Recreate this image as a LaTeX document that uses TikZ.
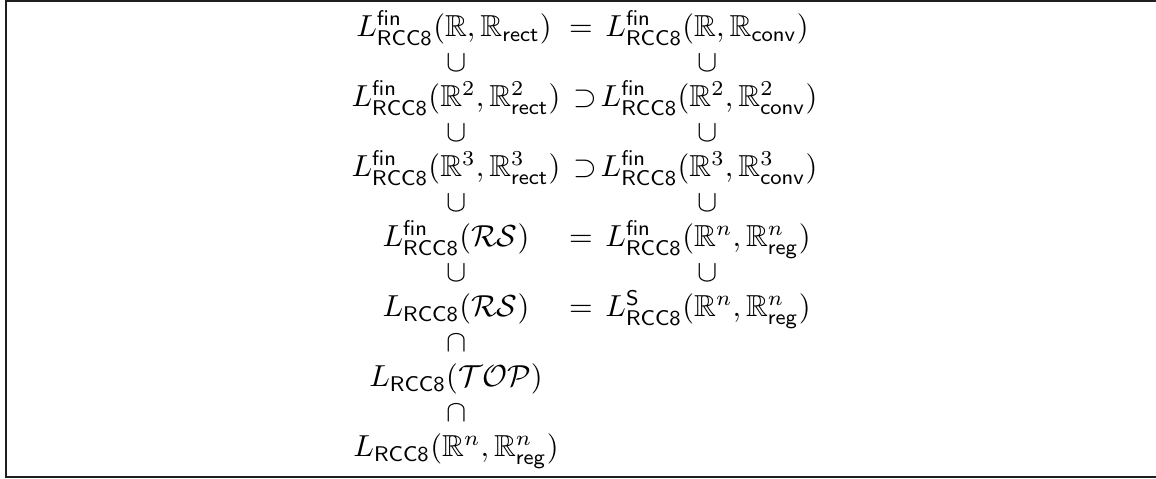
\documentclass[tikz,border=0pt]{standalone}
\usepackage{amssymb}
\newcommand\myLfin{L^{\mathsf{fin}}_{\mathsf{RCC8}}}
\newcommand\myL{L_{\mathsf{RCC8}}}
\newcommand\myLS{L^{\mathsf{S}}_{\mathsf{RCC8}}}
\newcommand\myM[1]{\scalebox{1.04}{$#1$}}
\begin{document}
\begin{tikzpicture}[x=0.3425pt,y=-0.3425pt,
  txt/.style={inner sep=0pt, outer sep=0pt, anchor=base},
  frame/.style={line width=0.8pt, draw=black!88}]
\useasboundingbox (0,0) rectangle (1156,479);
\draw[frame] (1156,1) -- (6.2,1) -- (6.2,477.3) -- (1156,477.3);
% row 1
\node[txt] (a1) at (454,37) {\myM{\myLfin(\mathbb{R},\mathbb{R}_{\mathsf{rect}})}};
\node[txt] (r1) at (581,37) {\myM{=}};
\node[txt] (b1) at (707,37) {\myM{\myLfin(\mathbb{R},\mathbb{R}_{\mathsf{conv}})}};
\node[txt] (ua1) at (457,72) {\myM{\cup}};
\node[txt] (ub1) at (708,72) {\myM{\cup}};
% row 2
\node[txt] (a2) at (456,107) {\myM{\myLfin(\mathbb{R}^2,\mathbb{R}^2_{\mathsf{rect}})}};
\node[txt] (r2) at (585,107) {\myM{\supset}};
\node[txt] (b2) at (709,107) {\myM{\myLfin(\mathbb{R}^2,\mathbb{R}^2_{\mathsf{conv}})}};
\node[txt] (ua2) at (457,142) {\myM{\cup}};
\node[txt] (ub2) at (708,142) {\myM{\cup}};
% row 3
\node[txt] (a3) at (456,177) {\myM{\myLfin(\mathbb{R}^3,\mathbb{R}^3_{\mathsf{rect}})}};
\node[txt] (r3) at (585,177) {\myM{\supset}};
\node[txt] (b3) at (709,177) {\myM{\myLfin(\mathbb{R}^3,\mathbb{R}^3_{\mathsf{conv}})}};
\node[txt] (ua3) at (457,212) {\myM{\cup}};
\node[txt] (ub3) at (708,212) {\myM{\cup}};
% row 4
\node[txt] (a4) at (456,247) {\myM{\myLfin(\mathcal{RS})}};
\node[txt] (r4) at (581,247) {\myM{=}};
\node[txt] (b4) at (708,247) {\myM{\myLfin(\mathbb{R}^n,\mathbb{R}^n_{\mathsf{reg}})}};
\node[txt] (ua4) at (457,282) {\myM{\cup}};
\node[txt] (ub4) at (708,282) {\myM{\cup}};
% row 5
\node[txt] (a5) at (456,317) {\myM{\myL(\mathcal{RS})}};
\node[txt] (r5) at (581,317) {\myM{=}};
\node[txt] (b5) at (708,317) {\myM{\myLS(\mathbb{R}^n,\mathbb{R}^n_{\mathsf{reg}})}};
\node[txt] (ca5) at (457,352) {\myM{\cap}};
% row 6
\node[txt] (a6) at (456,387) {\myM{\myL(\mathcal{TOP})}};
\node[txt] (ca6) at (457,422) {\myM{\cap}};
% row 7
\node[txt] (a7) at (456,457) {\myM{\myL(\mathbb{R}^n,\mathbb{R}^n_{\mathsf{reg}})}};
\end{tikzpicture}
\end{document}
